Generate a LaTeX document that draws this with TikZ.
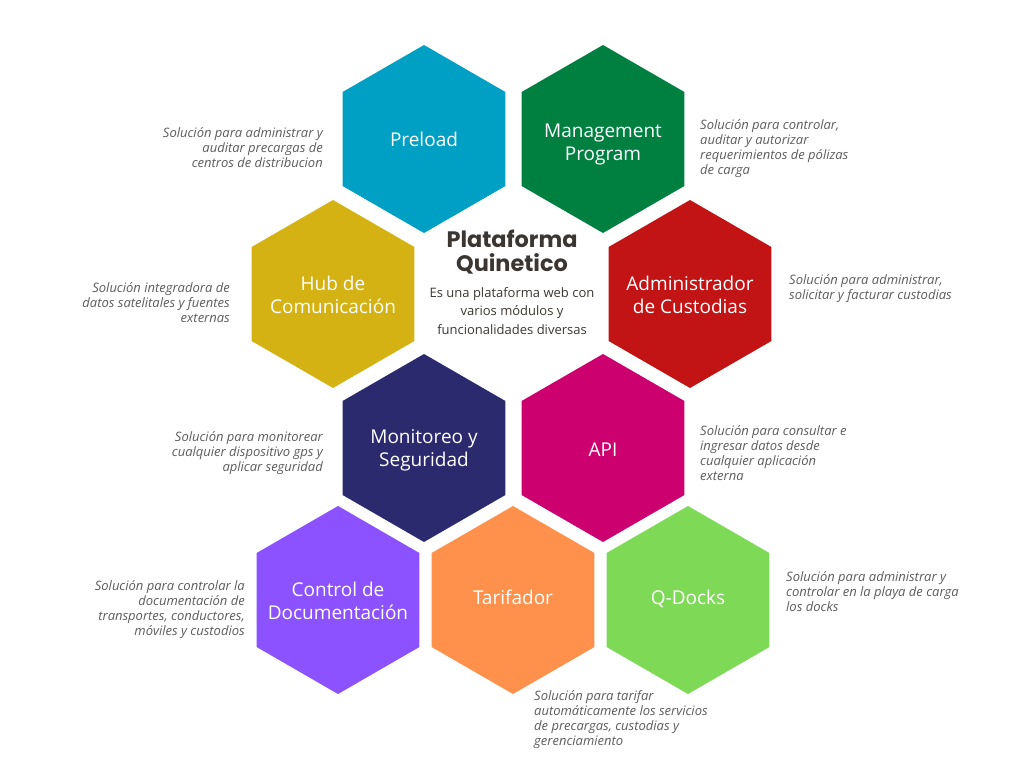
\documentclass[tikz,border=0pt]{standalone}
\usepackage{fontspec}
\setmainfont{Open Sans}
\newfontfamily\titlefont{Poppins}
\usetikzlibrary{shapes.geometric}

\definecolor{preloadblue}{HTML}{00A0C4}
\definecolor{mgmtgreen}{HTML}{008040}
\definecolor{hubyellow}{HTML}{D4B214}
\definecolor{custred}{HTML}{C21414}
\definecolor{moninavy}{HTML}{2B2A6E}
\definecolor{apimagenta}{HTML}{CC006E}
\definecolor{docpurple}{HTML}{8C52FF}
\definecolor{tariforange}{HTML}{FF914D}
\definecolor{docksgreen}{HTML}{7ED957}
\definecolor{notegray}{HTML}{5C5C5C}
\definecolor{titlebrown}{HTML}{3B3631}

\tikzset{
	hexa/.style={regular polygon, regular polygon sides=6, shape border rotate=30,
		minimum size=188pt, inner sep=0pt, outer sep=0pt, fill=#1},
	hexlabel/.style={inner sep=0pt, text=white, align=center, font=\fontsize{19}{23}\selectfont},
	nota/.style={inner sep=0pt, text=notegray, font=\fontsize{13}{15}\selectfont\itshape}
}

\begin{document}
\begin{tikzpicture}[x=1pt, y=-1pt]
		\useasboundingbox (0,0) rectangle (1024,768);

		% hexagons
		\node[hexa=preloadblue] (preload) at (424,139) {};
		\node[hexa=mgmtgreen] (mgmt) at (603,139) {};
		\node[hexa=hubyellow] (hub) at (333,294) {};
		\node[hexa=custred] (cust) at (690,294) {};
		\node[hexa=moninavy] (moni) at (424,448) {};
		\node[hexa=apimagenta] (api) at (603,448) {};
		\node[hexa=docpurple] (doc) at (338,600) {};
		\node[hexa=tariforange] (tarif) at (513,600) {};
		\node[hexa=docksgreen] (docks) at (688,600) {};

		% hexagon labels
		\node[hexlabel] (preloadtext) at (preload) {Preload};
		\node[hexlabel, yshift=-5pt] (mgmttext) at (mgmt) {Management\\Program};
		\node[hexlabel, yshift=-1pt] (hubtext) at (hub) {Hub de\\Comunicación};
		\node[hexlabel, yshift=-1pt] (custtext) at (cust) {Administrador\\de Custodias};
		\node[hexlabel, yshift=-2pt] (monitext) at (moni) {Monitoreo y\\Seguridad};
		\node[hexlabel, yshift=-2pt] (apitext) at (api) {API};
		\node[hexlabel, yshift=-1pt] (doctext) at (doc) {Control de\\Documentación};
		\node[hexlabel, yshift=3pt] (tariftext) at (tarif) {Tarifador};
		\node[hexlabel, yshift=1pt] (dockstext) at (docks) {Q-Docks};

		% centre title
		\node[align=center, text=titlebrown, inner sep=0pt, font=\titlefont\bfseries\fontsize{22.4}{24}\selectfont] (title) at (512,252) {Plataforma\\Quinetico};
		\node[align=center, text=titlebrown, inner sep=0pt, font=\fontsize{13}{18.5}\selectfont] (subtitle) at (512,311) {Es una plataforma web con\\varios módulos y\\funcionalidades diversas};

		% notes
		\node[nota, anchor=east, align=right] (notePreload) at (323,148) {Solución para administrar y\\auditar precargas de\\centros de distribucion};
		\node[nota, anchor=west, align=left] (noteMgmt) at (700,149) {Solución para controlar,\\auditar y autorizar\\requerimientos de pólizas\\de carga};
		\node[nota, anchor=east, align=right] (noteHub) at (230,303) {Solución integradora de\\datos satelitales y fuentes\\externas};
		\node[nota, anchor=west, align=left] (noteCust) at (789,289) {Solución para administrar,\\solicitar y facturar custodias};
		\node[nota, anchor=east, align=right] (noteMoni) at (323,453) {Solución para monitorear\\cualquier dispositivo gps y\\aplicar seguridad};
		\node[nota, anchor=west, align=left] (noteApi) at (700,453) {Solución para consultar e\\ingresar datos desde\\cualquier aplicación\\externa};
		\node[nota, anchor=east, align=right] (noteDoc) at (245,610) {Solución para controlar la\\documentación de\\transportes, conductores,\\móviles y custodios};
		\node[nota, anchor=west, align=left] (noteDocks) at (786,592) {Solución para administrar y\\controlar en la playa de carga\\los docks};
		\node[nota, anchor=west, align=left] (noteTarif) at (534,720) {Solución para tarifar\\automáticamente los servicios\\de precargas, custodias y\\gerenciamiento};

	\end{tikzpicture}
\end{document}
